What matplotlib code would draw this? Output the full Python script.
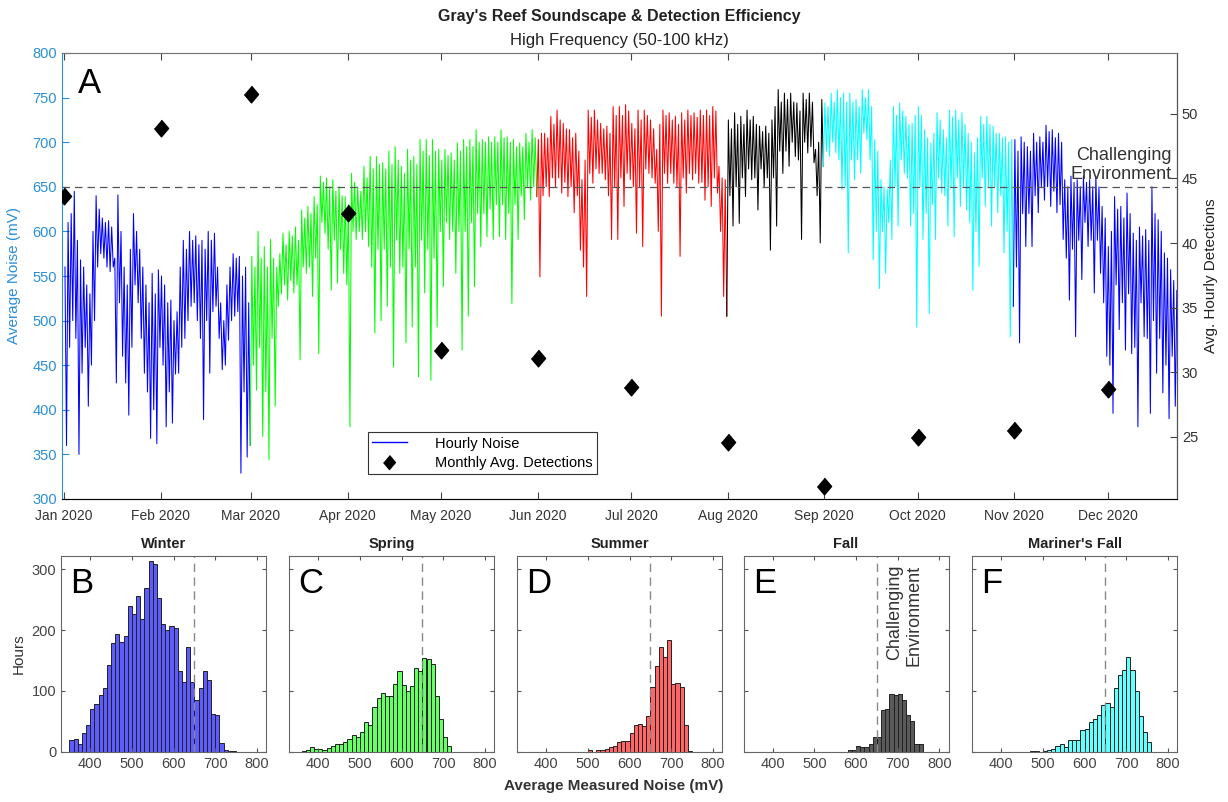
import numpy as np
import matplotlib.pyplot as plt
import matplotlib.dates as mdates
from matplotlib.lines import Line2D

plt.rcParams['font.family'] = ['Liberation Sans', 'DejaVu Sans']

# daily range of the hourly noise (mV): daily high, then daily low
winter1_hi = [560, 610, 620, 645, 590, 568, 560, 540, 530, 600, 640, 625, 615, 610, 612,
              605, 570, 641, 600, 560, 540, 580, 620, 600, 580, 560, 540, 520, 553, 530,
              557, 550, 540, 520, 523, 500, 510, 560, 590, 580, 600, 590, 595, 585, 590,
              580, 600, 590, 598, 560, 520, 500, 540, 560, 575, 570, 572, 550, 560, 520]
winter1_lo = [360, 470, 500, 480, 350, 441, 470, 404, 450, 500, 560, 575, 570, 560, 555,
              560, 430, 520, 460, 430, 394, 470, 540, 520, 480, 441, 420, 368, 400, 362,
              470, 450, 381, 420, 385, 440, 441, 470, 480, 500, 516, 520, 500, 480, 389,
              500, 441, 510, 516, 480, 445, 450, 478, 500, 505, 510, 329, 420, 347, 360]
spring_hi = [572, 560, 600, 570, 583, 560, 591, 570, 560, 575, 598, 585, 600, 595, 605,
             590, 624, 615, 628, 620, 639, 630, 662, 655, 660, 650, 658, 645, 650, 640,
             639, 630, 665, 655, 650, 645, 673, 660, 684, 670, 684, 675, 677, 670, 690,
             675, 695, 680, 673, 665, 692, 680, 684, 675, 703, 690, 703, 685, 703, 690,
             692, 680, 692, 685, 688, 680, 699, 690, 703, 695, 703, 695, 714, 700, 703,
             700, 706, 700, 706, 700, 714, 705, 706, 700, 703, 695, 699, 695, 710, 700,
             714, 705]
spring_lo = [450, 422, 470, 370, 420, 344, 480, 404, 516, 530, 540, 523, 545, 531, 540,
             456, 560, 553, 560, 527, 570, 463, 610, 598, 580, 534, 590, 542, 580, 553,
             540, 381, 600, 591, 600, 591, 600, 583, 560, 486, 580, 500, 580, 516, 560,
             448, 590, 553, 560, 475, 580, 493, 560, 437, 590, 531, 580, 433, 570, 493,
             600, 538, 610, 591, 600, 553, 600, 467, 600, 505, 610, 538, 620, 583, 620,
             594, 625, 591, 630, 594, 630, 591, 620, 519, 630, 591, 640, 613, 650, 635,
             650, 639]
summer_hi = [703, 710, 710, 705, 729, 720, 736, 725, 721, 715, 714, 705, 710, 690, 658,
             680, 736, 728, 736, 725, 721, 715, 718, 710, 740, 730, 740, 730, 742, 735,
             721, 715, 736, 725, 736, 730, 725, 715, 692, 720, 736, 730, 733, 725, 729,
             720, 733, 725, 736, 730, 733, 728, 736, 730, 736, 730, 740, 735, 673, 660,
             658]
summer_lo = [549, 640, 650, 639, 660, 650, 660, 643, 655, 639, 650, 621, 640, 579, 560,
             527, 665, 654, 670, 665, 665, 658, 640, 591, 650, 591, 660, 628, 665, 658,
             650, 598, 650, 583, 670, 665, 660, 654, 600, 505, 665, 654, 665, 654, 650,
             572, 660, 643, 665, 658, 665, 654, 655, 635, 650, 628, 660, 643, 600, 527,
             505]
fall_hi = [725, 715, 733, 720, 729, 720, 736, 725, 729, 720, 718, 712, 718, 710, 725,
           740, 759, 745, 755, 748, 755, 745, 744, 735, 755, 748, 755, 745, 692, 700,
           748]
fall_lo = [640, 606, 650, 609, 660, 639, 670, 658, 660, 624, 670, 650, 660, 579, 660,
           606, 690, 665, 690, 673, 700, 684, 680, 591, 700, 688, 695, 677, 640, 587,
           673]
mariner_hi = [744, 740, 755, 745, 759, 750, 755, 745, 755, 745, 748, 740, 759, 750, 759,
              740, 703, 690, 658, 650, 647, 680, 740, 730, 744, 735, 729, 720, 721, 730,
              740, 730, 714, 705, 699, 710, 733, 725, 714, 705, 736, 728, 736, 725, 733,
              720, 710, 700, 688, 705, 729, 720, 729, 720, 718, 710, 710, 705, 706, 700,
              703]
mariner_lo = [690, 684, 700, 688, 680, 647, 650, 576, 680, 658, 680, 665, 710, 703, 680,
              568, 600, 536, 600, 553, 610, 591, 650, 606, 680, 665, 660, 606, 620, 493,
              650, 591, 620, 508, 630, 591, 660, 643, 640, 606, 650, 594, 660, 628, 650,
              624, 610, 534, 600, 561, 660, 628, 650, 606, 650, 621, 640, 576, 600, 482,
              516]
winter2_hi = [703, 690, 706, 700, 695, 690, 710, 700, 706, 700, 719, 712, 714, 705, 710,
              700, 658, 650, 662, 655, 658, 650, 662, 655, 658, 650, 662, 650, 628, 615,
              583, 600, 639, 625, 628, 615, 643, 620, 598, 590, 605, 595, 602, 590, 650,
              620, 613, 600, 576, 570, 557, 545, 534]
winter2_lo = [560, 475, 620, 583, 620, 583, 640, 621, 650, 635, 650, 628, 645, 621, 630,
              591, 570, 523, 580, 482, 590, 546, 610, 583, 590, 531, 590, 553, 520, 460,
              450, 396, 540, 490, 520, 467, 530, 463, 470, 381, 520, 482, 480, 396, 500,
              441, 480, 419, 450, 390, 460, 404, 471]

# first day of each segment (day of year, 0 = Jan 1)
seg_start = [0, 60, 152, 213, 244, 305]

# monthly average detections
det_months = ['2020-%02d-01' % m for m in range(1, 13)]
det_values = [43.6, 48.9, 51.5, 42.3, 31.7, 31.1, 28.9, 24.6, 21.2, 25.0, 25.5, 28.7]

# histograms (10 mV bins, hours)
winter_start, winter_counts = 350, [19, 21, 13, 31, 44, 70, 78, 94, 105, 142, 179, 194, 180, 191,
                                    239, 227, 256, 219, 270, 313, 309, 253, 210, 200, 207, 204,
                                    133, 115, 172, 115, 85, 105, 133, 118, 62, 60, 15, 3, 1, 1]
spring_start, spring_counts = 360, [1, 3, 7, 5, 5, 2, 6, 9, 12, 12, 16, 21, 27, 25, 32, 49, 44,
                                    74, 89, 97, 92, 92, 111, 132, 110, 100, 108, 137, 132, 154,
                                    152, 144, 92, 54, 24, 10]
summer_start, summer_counts = 500, [3, 0, 2, 2, 5, 8, 9, 16, 17, 17, 31, 44, 45, 43, 59, 107, 141,
                                    172, 155, 184, 112, 113, 106, 44, 1]
fall_start, fall_counts = 580, [2, 3, 9, 7, 8, 13, 25, 24, 68, 70, 95, 94, 95, 85, 60, 50, 13, 13]
mariner_start, mariner_counts = 470, [1, 1, 0, 1, 3, 5, 10, 13, 8, 20, 19, 20, 36, 38, 49, 54, 60,
                                      77, 80, 74, 105, 126, 135, 155, 135, 100, 59, 32, 16]

threshold = 650
blue_axis = '#2a8fd6'
t0 = np.datetime64('2020-01-01T00:00')


def to_time(days):
    return t0 + (np.asarray(days, dtype=float) * 1440).astype('timedelta64[m]')


fig = plt.figure(figsize=(12.28, 8.02), dpi=100)
W, H = 1228, 802

# ---- top panel ----
ax = fig.add_axes([62 / W, 303 / H, 1115 / W, 446 / H])
ax2 = ax.twinx()

segments = [(winter1_hi, winter1_lo, 'b'), (spring_hi, spring_lo, '#00ff00'),
            (summer_hi, summer_lo, 'r'), (fall_hi, fall_lo, 'k'),
            (mariner_hi, mariner_lo, '#00ffff'), (winter2_hi, winter2_lo, 'b')]
prev = None
for start, (hi, lo, col) in zip(seg_start, segments):
    n = len(hi)
    days = np.empty(2 * n)
    days[0::2] = start + np.arange(n) + 0.25
    days[1::2] = start + np.arange(n) + 0.75
    vals = np.empty(2 * n)
    vals[0::2] = hi
    vals[1::2] = lo
    if prev is not None:
        days = np.concatenate([[prev[0]], days])
        vals = np.concatenate([[prev[1]], vals])
    ax.plot(to_time(days), vals, color=col, lw=0.75)
    prev = (days[-1], vals[-1])

ax.axhline(threshold, color='#555555', ls=(0, (6, 4)), lw=0.9, zorder=3)
ax.text(to_time(355.5), threshold + 4, 'Challenging\nEnvironment', ha='right', va='bottom',
        fontsize=13, color='#333333', linespacing=1.2)

diamond = [(0, 1), (0.85, 0), (0, -1), (-0.85, 0)]
ax2.plot(np.array(det_months, dtype='datetime64[m]'), det_values, ls='none',
         marker=diamond, ms=12, color='k')

ax.set_xlim(to_time(-0.7), to_time(357.3))
ax.set_ylim(300, 800)
ax2.set_ylim(20.2, 54.7)
ax.xaxis.set_major_locator(mdates.MonthLocator())
ax.xaxis.set_major_formatter(mdates.DateFormatter('%b %Y'))
ax.set_yticks(np.arange(300, 801, 50))
ax2.set_yticks([25, 30, 35, 40, 45, 50])

ax.tick_params(axis='x', direction='in', top=True, labelsize=10, labelcolor='#333333',
               color='#444444', length=5, pad=7)
ax.tick_params(axis='y', direction='in', colors=blue_axis, labelsize=10.5, length=5)
ax2.tick_params(axis='y', direction='in', labelsize=10.5, labelcolor='#333333',
                color='#444444', length=5)
for s in ['top', 'bottom']:
    ax.spines[s].set_color('#777777')
ax.spines['left'].set_color(blue_axis)
ax2.spines['left'].set_visible(False)
ax2.spines['right'].set_color('#555555')
ax2.spines['top'].set_color('#777777')
ax.set_ylabel('Average Noise (mV)', color=blue_axis, fontsize=11, labelpad=8)
ax2.set_ylabel('Avg. Hourly Detections', fontsize=11, color='#222222', labelpad=4)

ax.text(0.014, 0.91, 'A', transform=ax.transAxes, fontsize=25, va='baseline')

handles = [Line2D([], [], color='b', lw=1),
           Line2D([], [], ls='none', marker=diamond, ms=10, color='k')]
leg = ax2.legend(handles, ['Hourly Noise', 'Monthly Avg. Detections'], loc='lower left',
                 bbox_to_anchor=(0.274, 0.056), borderaxespad=0, fontsize=10.5,
                 fancybox=False, framealpha=1, edgecolor='#333333', handlelength=2.4,
                 handletextpad=1.9, borderpad=0.3, labelspacing=0.35)
leg.get_frame().set_linewidth(0.8)

fig.text(619 / W, 1 - 16 / H, "Gray's Reef Soundscape & Detection Efficiency", ha='center',
         va='center', fontsize=11.5, fontweight='bold', color='#222222')
fig.text(619 / W, 1 - 41 / H, 'High Frequency (50-100 kHz)', ha='center', va='center',
         fontsize=12, color='#222222')

# ---- seasonal histograms ----
hists = [('Winter', 'B', winter_start, winter_counts, '#5c5cff'),
         ('Spring', 'C', spring_start, spring_counts, '#66ff66'),
         ('Summer', 'D', summer_start, summer_counts, '#ff6666'),
         ('Fall', 'E', fall_start, fall_counts, '#5a5a5a'),
         ("Mariner's Fall", 'F', mariner_start, mariner_counts, '#66ffff')]
lefts = [61, 289, 517, 743.5, 972]
for i, ((name, letter, start, counts, col), left) in enumerate(zip(hists, lefts)):
    hx = fig.add_axes([left / W, 50.3 / H, 205 / W, 195.7 / H])
    edges = start + 10 * np.arange(len(counts))
    hx.bar(edges, counts, width=10, align='edge', color=col, edgecolor='#222222', lw=0.7)
    hx.axvline(threshold, color='#888888', ls=(0, (6, 4)), lw=1)
    hx.set_xlim(330, 822)
    hx.set_ylim(0, 322)
    hx.set_xticks([400, 500, 600, 700, 800])
    hx.set_yticks([0, 100, 200, 300])
    hx.tick_params(direction='in', top=True, right=True, labelsize=10.5,
                   labelcolor='#444444', color='#555555', length=3)
    if i > 0:
        hx.tick_params(labelleft=False)
    else:
        hx.set_ylabel('Hours', fontsize=11, color='#333333', labelpad=4)
    for s in hx.spines.values():
        s.set_color('#666666')
    hx.set_title(name, fontsize=10.5, fontweight='bold', color='#222222', pad=6)
    hx.text(0.045, 0.81, letter, transform=hx.transAxes, fontsize=25, va='baseline')
    if letter == 'E':
        hx.text(716, 308, 'Challenging\nEnvironment', rotation=90, ha='center', va='top',
                multialignment='right', fontsize=13, color='#333333', linespacing=1.15)

fig.text(614 / W, 1 - 786 / H, 'Average Measured Noise (mV)', ha='center', va='center',
         fontsize=11, fontweight='bold', color='#333333')

fig.savefig('out.png', dpi=100)
